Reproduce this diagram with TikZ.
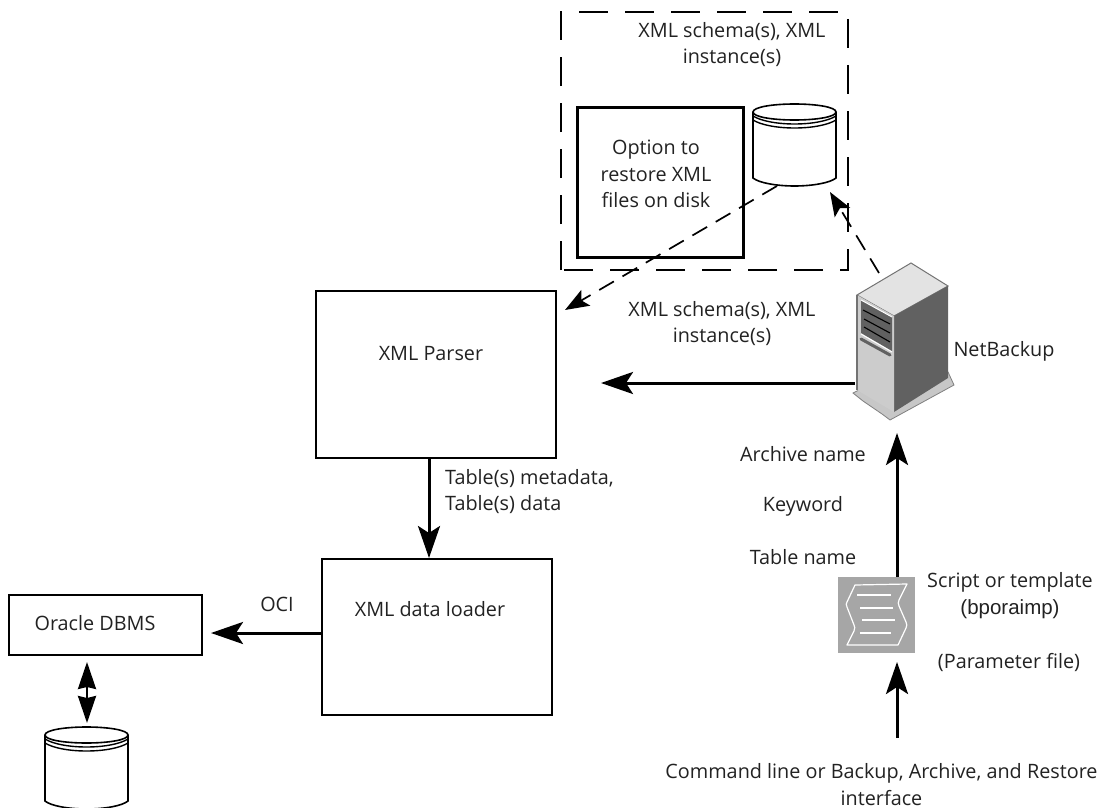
\documentclass[tikz,border=0pt]{standalone}
\usepackage{fontspec}
\setmainfont{Open Sans}
\newfontfamily\arialf{Liberation Sans}
\usetikzlibrary{arrows.meta}
\definecolor{txt}{HTML}{222222}
\tikzset{
  x=1pt,y=-1pt,
  lbl/.style={font=\fontsize{19.8}{26.5}\selectfont,text=txt,align=center,inner sep=0pt},
  boxa/.style={draw=black,line width=1.9pt,fill=white,inner sep=0pt,anchor=north west},
  flow/.style={draw=black,line width=3pt,-{Stealth[length=32pt,width=22pt,inset=7pt]}},
  dflow/.style={draw=black,line width=1.7pt,dash pattern=on 17pt off 10pt,-{Stealth[length=24pt,width=18pt,inset=5pt]}},
  cyl/.style={draw=black,line width=1.6pt,fill=white},
  rim/.style={draw=black,line width=1.4pt}
}
\newcommand{\drum}[3]{% name, left x, top y
  \begin{scope}[shift={(#2,#3)}]
    \draw[cyl] (0,8) -- (0,74) .. controls (6,79) and (24,82) .. (41.5,82) .. controls (59,82) and (77,79) .. (83,74) -- (83,8);
    \draw[cyl] (0,8) .. controls (0,3) and (20,0) .. (41.5,0) .. controls (63,0) and (83,3) .. (83,8) .. controls (83,13) and (63,16) .. (41.5,16) .. controls (20,16) and (0,13) .. (0,8) -- cycle;
    \draw[rim] (0,12) .. controls (8,17) and (24,20) .. (41.5,20) .. controls (59,20) and (75,17) .. (83,12);
    \draw[rim] (0,16) .. controls (8,21) and (24,24) .. (41.5,24) .. controls (59,24) and (75,21) .. (83,16);
  \end{scope}
  \node[minimum width=83pt,minimum height=82pt,inner sep=0pt] (#1) at (#2+41.5,#3+41) {};
}
\begin{document}
\begin{tikzpicture}
\useasboundingbox (0,0) rectangle (1108,808);
\fill[white] (0,0) rectangle (1108,808);
% dashed frame
\draw[black,line width=1.6pt,dash pattern=on 29pt off 17pt] (561,270) -- (561,12) -- (848,12) -- (848,270) -- cycle;
% boxes
\node[boxa,line width=2.8pt,minimum width=166pt,minimum height=150pt] (opt) at (576,106) {};
\node[lbl] at (656,174) {Option to\\restore XML\\files on disk};
\drum{disk}{753}{104}
\node[lbl] (xmltop) at (732,44.5) {XML schema(s), XML\\instance(s)};
\node[boxa,minimum width=240pt,minimum height=167pt] (parser) at (315,290) {};
\node[lbl] at (431,354) {XML Parser};
\node[boxa,minimum width=230pt,minimum height=156pt] (loader) at (321,558) {};
\node[lbl] at (430,609) {XML data loader};
\node[boxa,minimum width=193pt,minimum height=60pt] (oracle) at (8,594) {};
\node[lbl] at (95,623) {Oracle DBMS};
\drum{db}{45}{727}
% server
\begin{scope}
  \fill[black!22,draw=black!50,line width=.8pt] (853,393) -- (863,388) -- (894,405) -- (948,372) -- (954,385) -- (890,420) -- (882,414) -- (863,401) -- cycle;
  \draw[fill=black!11,draw=black!55,line width=1pt] (857,295) -- (911,263) -- (948,286) -- (894,316) -- cycle;
  \fill[black!62] (894,316) -- (948,286) -- (948,378) -- (894,412) -- cycle;
  \fill[black!20] (857,295) -- (894,316) -- (894,412) -- (857,390) -- cycle;
  \draw[black!55,line width=1.2pt] (857,295) -- (857,390);
  \fill[black!62] (861,300) -- (892,317) -- (892,351) -- (861,333) -- cycle;
  \draw[white,line width=1pt] (861,300) -- (892,317) (892,352) -- (861,334);
  \draw[black,line width=1.1pt] (863,310) -- (890,324);
  \draw[black,line width=1.1pt] (864,319) -- (890,333);
  \draw[black,line width=1.1pt] (864,327) -- (890,342);
  \draw[black!62,line width=3pt,line cap=round] (861,339) -- (890,355);
\end{scope}
\node[minimum width=94pt,minimum height=157pt,inner sep=0pt] (srv) at (903,342) {};
\node[lbl] at (1004,351) {NetBackup};
% script icon
\node[fill=black!35,minimum width=77pt,minimum height=76pt,inner sep=0pt,anchor=north west] (icon) at (838,577) {};
\draw[white,line width=1.2pt,line join=round] (855,585) -- (907,584) -- (899,600) .. controls (898,603) and (898,603) .. (899,606) -- (906,622) .. controls (907,625) and (907,625) .. (906,628) -- (898,645) -- (847,645) -- (854,631) .. controls (855,628) and (855,627) .. (854,625) -- (847,607) .. controls (846,604) and (846,604) .. (847,602) -- cycle;
\draw[white,line width=1.2pt] (857,595) -- (891,595) (860,608) -- (893,608) (862,620) -- (895,620) (860,633) -- (891,633);
% labels
\node[lbl] (xmlmid) at (722,323.5) {XML schema(s), XML\\instance(s)};
\node[lbl,anchor=west,align=left] at (445,491.5) {Table(s) metadata,\\Table(s) data};
\node[lbl] at (277,604) {OCI};
\node[lbl] at (803,454) {Archive name};
\node[lbl] at (803,506) {Keyword};
\node[lbl] at (803,557) {Table name};
\node[lbl] at (1010,582) {Script or template};
\node[lbl,font=\arialf\fontsize{20.5}{26}\selectfont] at (1010,609) {(bporaimp)};
\node[lbl] at (1009,662) {(Parameter file)};
\node[lbl] (cmd) at (881.5,784.5) {Command line or Backup, Archive, and Restore\\interface};
% connectors
\coordinate (srvw) at (855,383);
\coordinate (parsere) at (601,383);
\coordinate (srvn) at (879,273);
\coordinate (disks) at (830,192);
\coordinate (disksw) at (777,186);
\coordinate (parserne) at (565,310);
\coordinate (cmdn) at (897,738);
\coordinate (icons) at (897,662);
\coordinate (srvs) at (897,433);
\coordinate (pl) at (429,457);
\coordinate (oe) at (211,633);
\coordinate (dbtop) at (87,723);
\coordinate (ors) at (87,662);
\draw[dflow] (srvn) -- (disks);
\draw[dflow] (disksw) -- (parserne);
\draw[flow] (srvw) -- (parsere);
\draw[flow] (parser.south -| pl) -- (loader.north -| pl);
\draw[flow] (loader.west |- oe) -- (oe);
\draw[draw=black,line width=2.4pt,{Stealth[length=27pt,width=18pt,inset=2pt]}-{Stealth[length=27pt,width=18pt,inset=2pt]}] (ors) -- (dbtop);
\draw[flow] (icon.north -| srvs) -- (srvs);
\draw[flow] (cmdn) -- (icons);
\end{tikzpicture}
\end{document}
